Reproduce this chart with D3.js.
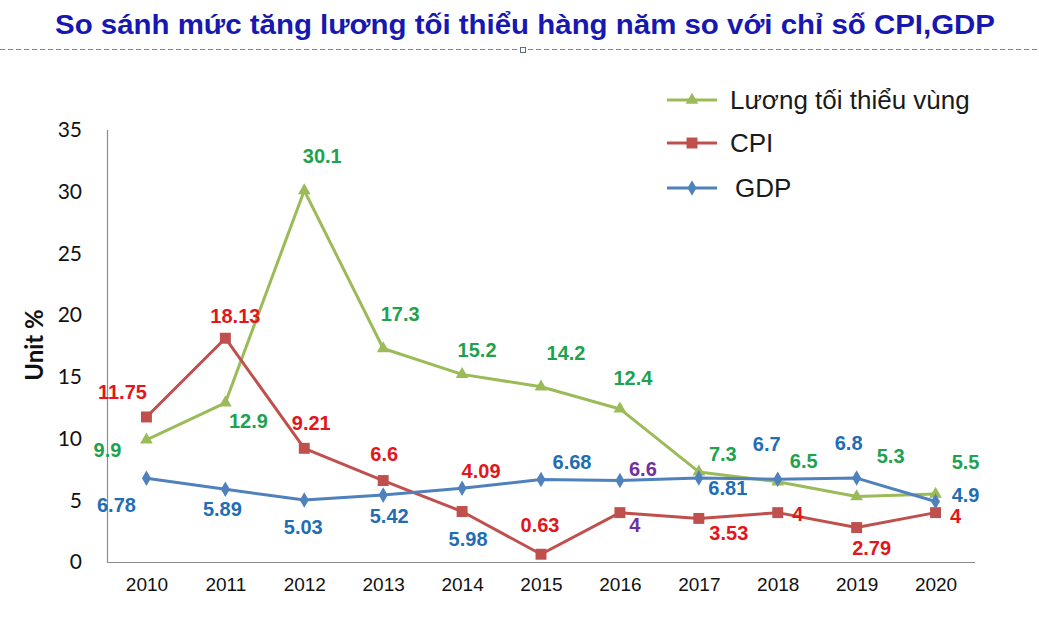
<!DOCTYPE html>
<html><head><meta charset="utf-8">
<script src="https://cdn.jsdelivr.net/npm/d3@7"></script>
<style>html,body{margin:0;padding:0;background:#fff;}svg{display:block;}</style>
</head><body>
<svg id="chart" width="1039" height="637"></svg>
<script>
// ---- data ----
const years = ["2010","2011","2012","2013","2014","2015","2016","2017","2018","2019","2020"];
const minWage = [9.9, 12.9, 30.1, 17.3, 15.2, 14.2, 12.4, 7.3, 6.5, 5.3, 5.5];
const cpi = [11.75, 18.13, 9.21, 6.6, 4.09, 0.63, 4, 3.53, 4, 2.79, 4];
const gdp = [6.78, 5.89, 5.03, 5.42, 5.98, 6.68, 6.6, 6.81, 6.7, 6.8, 4.9];
const yTicks = [0, 5, 10, 15, 20, 25, 30, 35];
const seriesNames = ["Lương tối thiểu vùng", "CPI", "GDP"];
const titleText = "So sánh mức tăng lương tối thiểu hàng năm so với chỉ số CPI,GDP";
const yAxisTitle = "Unit %";

// ---- layout / style ----
const svg = d3.select("#chart");
const x = d3.scalePoint().domain(years).range([107, 975]).padding(0.5);
const y = d3.scaleLinear().domain([0, 35]).range([562, 130]);

const series = [
  {name: seriesNames[0], values: minWage, line: "#9bbb59", label: "#1fa24f", sym: d3.symbolTriangle, size: 70,
   off: [[-39,10],[23,18],[18,-34],[17,-34],[15,-24],[25,-34],[13,-31],[24,-18],[26,-21],[34,-41],[30,-32]],
   lcol: []},
  {name: seriesNames[1], values: cpi, line: "#c0504d", label: "#e3161c", sym: d3.symbolSquare, size: 120,
   off: [[-24,-25],[10,-22],[7,-25],[1,-27],[19,-41],[-1,-29],[15,12],[30,15],[20,1],[15,20],[20,3]],
   lcol: {6: "#7030a0"}},
  {name: seriesNames[2], values: gdp, line: "#4f81bd", label: "#1f6db4", sym: d3.symbolDiamond, size: 70,
   off: [[-30,27],[-3,20],[-1,27],[6,21],[6,51],[31,-18],[23,-12],[29,10],[-11,-35],[-8,-35],[30,-7]],
   lcol: {6: "#7030a0"}}
];

// title
svg.append("text").attr("x", 55).attr("y", 34)
  .attr("textLength", 940).attr("lengthAdjust", "spacingAndGlyphs")
  .style("font-family", "'Liberation Sans Narrow','Arial Narrow','Liberation Sans',Arial,sans-serif")
  .style("font-weight", "bold").style("font-size", "27px").style("fill", "#1717b2")
  .text(titleText);

// dashed separator
svg.append("line").attr("x1", 0).attr("x2", 1039).attr("y1", 49.5).attr("y2", 49.5)
  .attr("stroke", "#7185a3").attr("stroke-width", 1).attr("stroke-dasharray", "5,3");
svg.append("rect").attr("x", 520.5).attr("y", 47.5).attr("width", 5).attr("height", 5)
  .attr("fill", "#fff").attr("stroke", "#5a6d8a").attr("stroke-width", 1);

// axes
const gx = svg.append("g").attr("transform", "translate(0,562)")
  .call(d3.axisBottom(x).tickSize(0).tickPadding(16));
gx.select(".domain").remove();
gx.selectAll("text").style("font-family", "'Liberation Sans',Arial,sans-serif")
  .style("font-size", "19px").style("fill", "#111");

const gy = svg.append("g").attr("transform", "translate(107,0)")
  .call(d3.axisLeft(y).tickValues(yTicks).tickSize(0).tickPadding(25));
gy.select(".domain").remove();
gy.selectAll("text").style("font-family", "Lato,'Open Sans',sans-serif")
  .style("font-size", "21px").style("fill", "#111");

svg.append("line").attr("x1", 107.5).attr("x2", 107.5).attr("y1", 130).attr("y2", 562.5)
  .attr("stroke", "#8c8c8c").attr("stroke-width", 1.2);
svg.append("line").attr("x1", 107).attr("x2", 975).attr("y1", 562.5).attr("y2", 562.5)
  .attr("stroke", "#8c8c8c").attr("stroke-width", 1.2);

svg.append("text").attr("transform", "translate(43,345) rotate(-90)")
  .attr("text-anchor", "middle")
  .style("font-family", "Lato,'Open Sans',sans-serif").style("font-weight", "bold")
  .style("font-size", "24px").style("fill", "#111").text(yAxisTitle);

// lines, markers, labels
const lineGen = d3.line().x((d, i) => x(years[i])).y(d => y(d));
series.forEach(s => {
  svg.append("path").datum(s.values).attr("d", lineGen)
    .attr("fill", "none").attr("stroke", s.line).attr("stroke-width", 3).attr("stroke-linejoin", "round");
  svg.append("g").selectAll("path").data(s.values).join("path")
    .attr("transform", (d, i) => `translate(${x(years[i])},${y(d)})`)
    .attr("d", d3.symbol().type(s.sym).size(s.size)).attr("fill", s.line);
});
series.forEach(s => {
  svg.append("g").selectAll("text").data(s.values).join("text")
    .attr("x", (d, i) => x(years[i]) + s.off[i][0])
    .attr("y", (d, i) => y(d) + s.off[i][1])
    .attr("text-anchor", "middle").attr("dominant-baseline", "central")
    .style("font-family", "'Liberation Sans',Arial,sans-serif").style("font-weight", "bold")
    .style("font-size", "20px")
    .style("fill", (d, i) => s.lcol[i] || s.label)
    .text(d => d);
});

// legend
const legY = [100, 143, 188];
const legTx = [730, 730, 735];
series.forEach((s, k) => {
  const g = svg.append("g");
  g.append("line").attr("x1", 667).attr("x2", 717).attr("y1", legY[k]).attr("y2", legY[k])
    .attr("stroke", s.line).attr("stroke-width", 3);
  g.append("path").attr("transform", `translate(692,${legY[k]})`)
    .attr("d", d3.symbol().type(s.sym).size(s.size)).attr("fill", s.line);
  g.append("text").attr("x", legTx[k]).attr("y", legY[k]).attr("dominant-baseline", "central")
    .style("font-family", "'Liberation Sans',Arial,sans-serif").style("font-size", "26px")
    .style("fill", "#1a1a1a").text(s.name);
});
</script>
</body></html>
